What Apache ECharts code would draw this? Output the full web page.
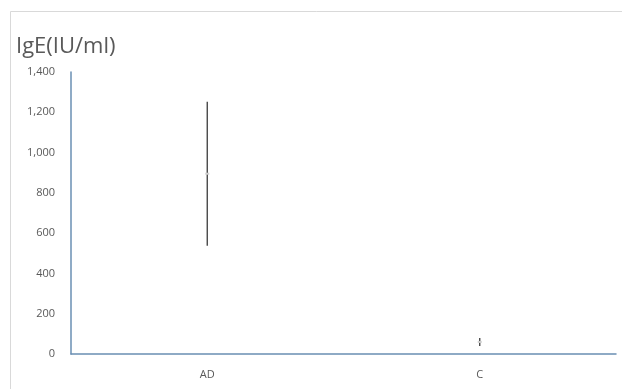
<!DOCTYPE html>
<html>
<head>
<meta charset="utf-8">
<script src="https://cdn.jsdelivr.net/npm/echarts@6/dist/echarts.min.js"></script>
<style>
  html, body { margin: 0; padding: 0; background: #fff; }
  #chart { width: 622px; height: 389px; }
</style>
</head>
<body>
<div id="chart"></div>
<script>
// Groups on the category axis
const categories = ['AD', 'C'];
// Mean IgE per group and the ends of its error bar (IU/ml)
const means = [895, 60];
const lows = [537, 40];
const highs = [1252, 80];
// Value axis range
const yMin = 0;
const yMax = 1400;
const yStep = 200;

const errorData = categories.map((c, i) => [i, lows[i], highs[i], means[i]]);

const chart = echarts.init(document.getElementById('chart'), null, { renderer: 'canvas' });

chart.setOption({
  animation: false,
  backgroundColor: '#ffffff',
  graphic: [{
    type: 'rect',
    shape: { x: 10.5, y: 11.5, width: 640, height: 400 },
    style: { fill: 'none', stroke: '#d9d9d9', lineWidth: 1 },
    silent: true,
    z: -1
  }, {
    type: 'text',
    left: 16,
    top: 36,
    style: {
      text: 'IgE(IU/ml)',
      font: '22px "Open Sans", sans-serif',
      fill: '#595959'
    }
  }],
  grid: { left: 71, right: 6, top: 72, bottom: 35, containLabel: false },
  xAxis: {
    type: 'category',
    data: categories,
    boundaryGap: true,
    axisLine: { lineStyle: { color: '#6a8fb3', width: 1.5 } },
    axisTick: { show: false },
    axisLabel: { color: '#595959', fontSize: 11, fontFamily: '"Open Sans", sans-serif', margin: 15 }
  },
  yAxis: {
    type: 'value',
    min: yMin,
    max: yMax,
    interval: yStep,
    axisLine: { show: true, lineStyle: { color: '#6a8fb3', width: 1.5 } },
    axisTick: { show: false },
    splitLine: { show: false },
    axisLabel: {
      color: '#595959',
      fontSize: 11,
      fontFamily: '"Open Sans", sans-serif',
      margin: 16,
      formatter: v => v.toLocaleString('en-US')
    }
  },
  series: [{
    type: 'custom',
    data: errorData,
    encode: { x: 0, y: [1, 2] },
    renderItem: function (params, api) {
      const x = api.value(0);
      const lo = api.coord([x, api.value(1)]);
      const hi = api.coord([x, api.value(2)]);
      const mid = api.coord([x, api.value(3)]);
      return {
        type: 'group',
        children: [{
          type: 'line',
          shape: { x1: lo[0], y1: lo[1], x2: hi[0], y2: hi[1] },
          style: { stroke: '#3a3a3a', lineWidth: 1.3 }
        }, {
          type: 'line',
          shape: { x1: mid[0] - 2, y1: mid[1], x2: mid[0] + 2, y2: mid[1] },
          style: { stroke: '#d0d0d0', lineWidth: 2 }
        }]
      };
    }
  }]
});
</script>
</body>
</html>
